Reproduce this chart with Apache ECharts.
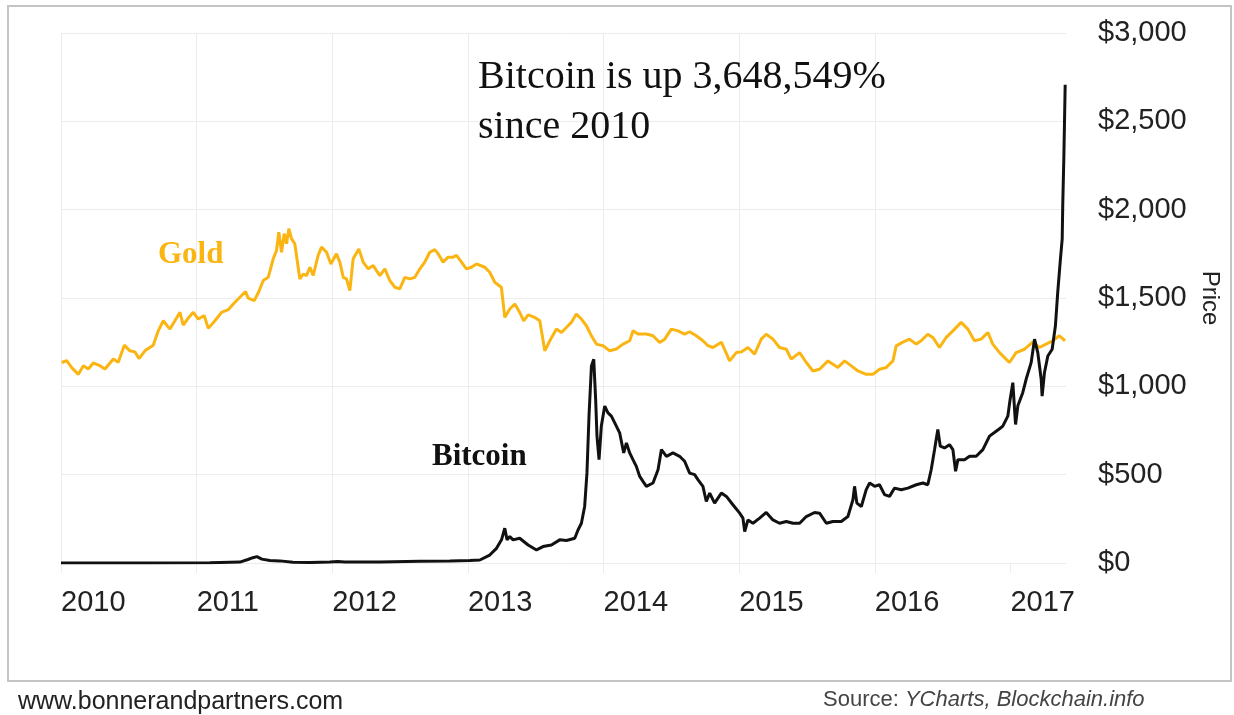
<!DOCTYPE html>
<html>
<head>
<meta charset="utf-8">
<title>Bitcoin vs Gold</title>
<script src="https://cdn.jsdelivr.net/npm/echarts@6/dist/echarts.min.js"></script>
<style>
  html, body { margin: 0; padding: 0; background: #ffffff; }
  #chart { width: 1234px; height: 715px; }
</style>
</head>
<body>
<div id="chart"></div>
<script>
// Year ticks along the bottom axis
const yearTicks = [2010, 2011, 2012, 2013, 2014, 2015, 2016, 2017];

// Price ticks on the right axis (USD)
const priceTicks = [0, 500, 1000, 1500, 2000, 2500, 3000];

// Gold price, USD per ounce (time as decimal year)
const goldYears = [
  2010.005, 2010.042, 2010.079, 2010.128, 2010.165, 2010.201, 2010.238, 2010.287, 2010.324, 2010.386,
  2010.422, 2010.467, 2010.508, 2010.545, 2010.575, 2010.619, 2010.680, 2010.717, 2010.754, 2010.803,
  2010.840, 2010.877, 2010.901, 2010.933, 2010.975, 2011.012, 2011.056, 2011.086, 2011.135, 2011.184,
  2011.233, 2011.270, 2011.319, 2011.361, 2011.380, 2011.425, 2011.459, 2011.491, 2011.528, 2011.565,
  2011.589, 2011.606, 2011.626, 2011.646, 2011.663, 2011.680, 2011.700, 2011.724, 2011.761, 2011.786,
  2011.810, 2011.835, 2011.859, 2011.896, 2011.921, 2011.958, 2011.990, 2012.031, 2012.056, 2012.081,
  2012.105, 2012.130, 2012.154, 2012.196, 2012.228, 2012.265, 2012.302, 2012.326, 2012.351, 2012.388,
  2012.424, 2012.461, 2012.498, 2012.535, 2012.572, 2012.609, 2012.646, 2012.682, 2012.719, 2012.756,
  2012.781, 2012.817, 2012.854, 2012.891, 2012.916, 2012.953, 2012.989, 2013.026, 2013.063, 2013.125,
  2013.161, 2013.198, 2013.247, 2013.272, 2013.309, 2013.346, 2013.382, 2013.412, 2013.444, 2013.493,
  2013.530, 2013.567, 2013.604, 2013.653, 2013.690, 2013.726, 2013.763, 2013.800, 2013.837, 2013.874,
  2013.911, 2013.947, 2013.997, 2014.046, 2014.095, 2014.144, 2014.193, 2014.218, 2014.254, 2014.316,
  2014.365, 2014.414, 2014.451, 2014.500, 2014.549, 2014.598, 2014.635, 2014.684, 2014.733, 2014.770,
  2014.807, 2014.869, 2014.930, 2014.979, 2015.016, 2015.065, 2015.114, 2015.163, 2015.200, 2015.249,
  2015.298, 2015.348, 2015.384, 2015.446, 2015.495, 2015.544, 2015.593, 2015.655, 2015.692, 2015.728,
  2015.778, 2015.827, 2015.876, 2015.937, 2015.986, 2016.035, 2016.085, 2016.134, 2016.158, 2016.207,
  2016.256, 2016.306, 2016.342, 2016.391, 2016.428, 2016.477, 2016.527, 2016.576, 2016.637, 2016.686,
  2016.735, 2016.784, 2016.834, 2016.870, 2016.920, 2016.993, 2017.042, 2017.104, 2017.165, 2017.214,
  2017.263, 2017.312, 2017.361, 2017.403
];
const goldPrices = [
  1135, 1145, 1106, 1068, 1117, 1098, 1132, 1117, 1098, 1155,
  1136, 1233, 1201, 1195, 1157, 1201, 1233, 1314, 1371, 1324,
  1371, 1419, 1347, 1381, 1419, 1381, 1400, 1328, 1371, 1419,
  1434, 1466, 1504, 1537, 1499, 1485, 1537, 1599, 1617, 1722,
  1769, 1873, 1759, 1864, 1807, 1892, 1835, 1807, 1608, 1636,
  1627, 1674, 1627, 1741, 1788, 1759, 1693, 1750, 1703, 1617,
  1608, 1542, 1722, 1778, 1703, 1665, 1684, 1655, 1627, 1665,
  1599, 1561, 1552, 1617, 1608, 1617, 1665, 1703, 1759, 1774,
  1750, 1703, 1731, 1731, 1741, 1703, 1665, 1674, 1693, 1674,
  1646, 1589, 1561, 1390, 1438, 1466, 1419, 1371, 1404, 1390,
  1371, 1201, 1258, 1324, 1305, 1333, 1362, 1409, 1381, 1343,
  1286, 1239, 1230, 1201, 1211, 1239, 1258, 1314, 1296, 1296,
  1286, 1248, 1267, 1324, 1314, 1296, 1309, 1286, 1258, 1230,
  1220, 1250, 1144, 1191, 1195, 1220, 1182, 1267, 1295, 1267,
  1220, 1210, 1154, 1191, 1135, 1087, 1097, 1144, 1125, 1107,
  1144, 1116, 1087, 1068, 1068, 1097, 1107, 1144, 1229, 1250,
  1267, 1239, 1258, 1295, 1277, 1220, 1277, 1314, 1362, 1324,
  1258, 1267, 1305, 1239, 1191, 1135, 1191, 1210, 1250, 1220,
  1239, 1258, 1286, 1258
];

// Bitcoin price, USD (time as decimal year)
const btcYears = [
  2010.000, 2010.656, 2011.098, 2011.319, 2011.378, 2011.415, 2011.444, 2011.481, 2011.540, 2011.614,
  2011.710, 2011.835, 2011.982, 2012.041, 2012.093, 2012.351, 2012.646, 2012.867, 2013.014, 2013.088,
  2013.161, 2013.211, 2013.248, 2013.272, 2013.289, 2013.309, 2013.333, 2013.382, 2013.444, 2013.506,
  2013.554, 2013.616, 2013.677, 2013.727, 2013.788, 2013.812, 2013.837, 2013.861, 2013.878, 2013.893,
  2013.911, 2013.928, 2013.942, 2013.952, 2013.967, 2013.984, 2014.009, 2014.033, 2014.058, 2014.083,
  2014.119, 2014.149, 2014.169, 2014.193, 2014.217, 2014.242, 2014.267, 2014.291, 2014.316, 2014.365,
  2014.402, 2014.427, 2014.464, 2014.512, 2014.561, 2014.598, 2014.635, 2014.672, 2014.696, 2014.733,
  2014.758, 2014.783, 2014.819, 2014.869, 2014.906, 2014.954, 2015.004, 2015.028, 2015.041, 2015.065,
  2015.102, 2015.151, 2015.200, 2015.249, 2015.298, 2015.348, 2015.397, 2015.446, 2015.495, 2015.556,
  2015.593, 2015.643, 2015.691, 2015.753, 2015.802, 2015.839, 2015.851, 2015.868, 2015.901, 2015.937,
  2015.962, 2015.999, 2016.035, 2016.072, 2016.109, 2016.146, 2016.195, 2016.244, 2016.306, 2016.355,
  2016.391, 2016.416, 2016.441, 2016.465, 2016.483, 2016.514, 2016.551, 2016.576, 2016.596, 2016.613,
  2016.662, 2016.699, 2016.748, 2016.797, 2016.846, 2016.895, 2016.920, 2016.944, 2016.981, 2016.998,
  2017.018, 2017.038, 2017.055, 2017.091, 2017.116, 2017.153, 2017.178, 2017.202, 2017.227, 2017.234,
  2017.251, 2017.276, 2017.308, 2017.332, 2017.349, 2017.369, 2017.382, 2017.386, 2017.394, 2017.404
];
const btcPrices = [
  0.1, 0.1, 0.8, 5, 20, 30, 36, 22, 14, 12,
  4, 3, 5, 8, 5, 6, 10, 12, 14, 17,
  45, 83, 131, 197, 131, 150, 131, 140, 102, 74,
  93, 102, 131, 127, 140, 187, 225, 320, 510, 831,
  1115, 1153, 926, 717, 585, 775, 888, 850, 831, 793,
  737, 623, 680, 623, 585, 547, 490, 462, 434, 453,
  528, 642, 604, 623, 604, 576, 509, 500, 472, 434,
  348, 396, 339, 396, 377, 330, 282, 254, 178, 244,
  225, 254, 286, 244, 225, 235, 225, 225, 263, 286,
  282, 225, 235, 235, 263, 358, 434, 339, 320, 415,
  453, 434, 443, 387, 377, 424, 415, 424, 443, 453,
  443, 528, 642, 756, 661, 651, 670, 642, 519, 585,
  585, 604, 604, 642, 718, 746, 760, 775, 831, 926,
  1021, 784, 890, 964, 1040, 1134, 1267, 1191, 1040, 945,
  1077, 1172, 1210, 1343, 1532, 1722, 1835, 2026, 2290, 2707
];

const GOLD = '#FBB513';
const BTC = '#111111';
const GRID = '#ececec';

function pairs(xs, ys) {
  return xs.map((x, i) => [x, ys[i]]);
}

function dollars(v) {
  return '$' + String(v).replace(/\B(?=(\d{3})+(?!\d))/g, ',');
}

const chart = echarts.init(document.getElementById('chart'), null, { renderer: 'canvas' });

chart.setOption({
  animation: false,
  backgroundColor: '#ffffff',
  grid: {
    left: 61,
    right: 168,
    top: 33,
    bottom: 152,
    containLabel: false,
    outerBoundsMode: 'none'
  },
  xAxis: {
    type: 'value',
    min: 2010,
    max: 2017.41,
    interval: 1,
    axisLine: { show: false },
    axisTick: {
      show: true,
      length: 10,
      customValues: yearTicks,
      lineStyle: { color: GRID, width: 1 }
    },
    axisLabel: {
      customValues: yearTicks,
      align: 'left',
      margin: 25,
      fontFamily: 'Liberation Sans, Arial, sans-serif',
      fontSize: 29,
      color: '#222222',
      formatter: v => String(Math.round(v))
    },
    splitLine: {
      show: true,
      showMaxLine: false,
      lineStyle: { color: GRID, width: 1 }
    }
  },
  yAxis: {
    type: 'value',
    position: 'right',
    min: priceTicks[0],
    max: priceTicks[priceTicks.length - 1],
    interval: 500,
    name: 'Price',
    nameLocation: 'middle',
    nameRotate: -90,
    nameGap: 124,
    nameTextStyle: {
      fontFamily: 'Liberation Sans, Arial, sans-serif',
      fontSize: 24,
      color: '#222222'
    },
    axisLine: { show: false },
    axisTick: { show: false },
    axisLabel: {
      margin: 32,
      fontFamily: 'Liberation Sans, Arial, sans-serif',
      fontSize: 29,
      color: '#222222',
      formatter: dollars
    },
    splitLine: { show: true, lineStyle: { color: GRID, width: 1 } }
  },
  series: [
    {
      name: 'Gold',
      type: 'line',
      data: pairs(goldYears, goldPrices),
      showSymbol: false,
      symbol: 'none',
      lineStyle: { color: GOLD, width: 3 },
      z: 2
    },
    {
      name: 'Bitcoin',
      type: 'line',
      data: pairs(btcYears, btcPrices),
      showSymbol: false,
      symbol: 'none',
      lineStyle: { color: BTC, width: 3 },
      z: 3
    }
  ],
  graphic: [
    {
      type: 'rect',
      shape: { x: 8, y: 6, width: 1223, height: 675 },
      style: { fill: 'none', stroke: '#c4c4c4', lineWidth: 2 },
      silent: true,
      z: 0
    },
    {
      type: 'text',
      x: 478,
      y: 52,
      style: {
        text: 'Bitcoin is up 3,648,549%\nsince 2010',
        font: '40px "Liberation Serif", "Times New Roman", serif',
        fill: '#111111',
        lineHeight: 50,
        align: 'left',
        verticalAlign: 'top'
      },
      z: 10
    },
    {
      type: 'text',
      x: 158,
      y: 255,
      style: {
        text: 'Gold',
        font: 'bold 31px "Liberation Serif", "Times New Roman", serif',
        fill: GOLD,
        align: 'left',
        verticalAlign: 'middle'
      },
      z: 10
    },
    {
      type: 'text',
      x: 432,
      y: 457,
      style: {
        text: 'Bitcoin',
        font: 'bold 31px "Liberation Serif", "Times New Roman", serif',
        fill: '#111111',
        align: 'left',
        verticalAlign: 'middle'
      },
      z: 10
    },
    {
      type: 'text',
      x: 18,
      y: 702,
      style: {
        text: 'www.bonnerandpartners.com',
        font: '25px "Liberation Sans", Arial, sans-serif',
        fill: '#222222',
        align: 'left',
        verticalAlign: 'middle'
      },
      z: 10
    },
    {
      type: 'text',
      x: 823,
      y: 700,
      style: {
        text: '{n|Source: }{i|YCharts, Blockchain.info}',
        align: 'left',
        verticalAlign: 'middle',
        rich: {
          n: { fontFamily: 'Liberation Sans, Arial, sans-serif', fontSize: 22, fill: '#444444', color: '#444444' },
          i: { fontFamily: 'Liberation Sans, Arial, sans-serif', fontSize: 22, fontStyle: 'italic', fill: '#444444', color: '#444444' }
        }
      },
      z: 10
    }
  ]
});
</script>
</body>
</html>
